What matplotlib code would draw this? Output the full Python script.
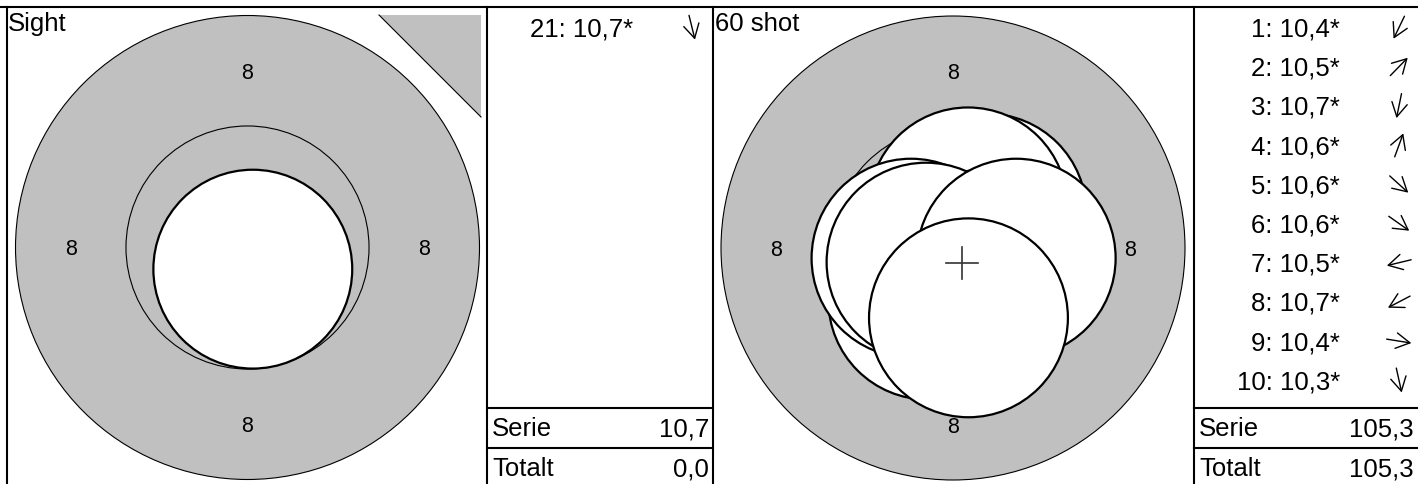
import numpy as np
import matplotlib
matplotlib.use("Agg")
import matplotlib.pyplot as plt
from matplotlib.patches import Circle, Polygon, FancyArrowPatch

plt.rcParams['font.family'] = ['Liberation Sans', 'DejaVu Sans']

# ---------------- data ----------------
sight_shot_no = [21]
sight_scores = [10.7]
sight_x = [0.12]    # mm, right positive
sight_y = [-0.49]   # mm, up positive

match_shot_no = [1, 2, 3, 4, 5, 6, 7, 8, 9, 10]
match_scores = [10.4, 10.5, 10.7, 10.6, 10.6, 10.6, 10.5, 10.7, 10.4, 10.3]
match_x = [-0.57, 0.77, -0.11, 0.34, 0.63, 0.68, -0.95, -0.61, 1.43, 0.35]
match_y = [-1.18, 0.79, -0.54, 0.93, -0.57, -0.48, -0.23, -0.32, -0.23, -1.58]

sight_total = 0.0
panel_titles = ["Sight", "60 shot"]
ring_label = "8"

# ---------------- style / layout ----------------
W, H = 1418, 484
DPI = 100
PX_PER_MM = 44.19
R8, R9, R_PELLET = 5.25, 2.75, 2.25
LABEL_R = 4.0
GRAY = "#c0c0c0"
LW_FRAME = 1.5
FS_TEXT = 18.5
FS_RING = 15.5

fig = plt.figure(figsize=(W / DPI, H / DPI), dpi=DPI)


def px_axes(x0, y0, x1, y1):
    return fig.add_axes([x0 / W, 1 - y1 / H, (x1 - x0) / W, (y1 - y0) / H])


def fmt(v):
    return f"{v:.1f}".replace(".", ",")


def target_axes(box, center, xs, ys):
    x0, y0, x1, y1 = box
    cx, cy = center
    ax = px_axes(x0, y0, x1, y1)
    ax.set_xlim((x0 - cx) / PX_PER_MM, (x1 - cx) / PX_PER_MM)
    ax.set_ylim(-(y1 - cy) / PX_PER_MM, (cy - y0) / PX_PER_MM)
    ax.set_aspect('auto')
    ax.axis('off')
    ax.add_patch(Circle((0, 0), R8, facecolor=GRAY, edgecolor='black', lw=0.8, zorder=1))
    ax.add_patch(Circle((0, 0), R9, facecolor='none', edgecolor='black', lw=0.8, zorder=2))
    for (lx, ly) in [(0, LABEL_R), (0, -LABEL_R), (-LABEL_R, 0), (LABEL_R, 0)]:
        ax.text(lx, ly, ring_label, ha='center', va='center_baseline', fontsize=FS_RING, zorder=3)
    for x, y in zip(xs, ys):
        ax.add_patch(Circle((x, y), R_PELLET, facecolor='white', edgecolor='black', lw=1.6, zorder=4))
    return ax


# left (sight) panel
axL = target_axes((7, 7, 487, 484), (247.5, 247.5), sight_x, sight_y)
# right (match) panel
axR = target_axes((713, 7, 1194, 484), (953, 248), match_x, match_y)
mx, my = np.mean(match_x), np.mean(match_y)
ch = 0.36
axR.plot([mx - ch, mx + ch], [my, my], color='#333333', lw=1.2, zorder=6)
axR.plot([mx, mx], [my - ch, my + ch], color='#333333', lw=1.2, zorder=6)

# overlay axes in pixel units for frames and tables
ov = fig.add_axes([0, 0, 1, 1])
ov.set_xlim(0, W)
ov.set_ylim(H, 0)
ov.axis('off')
ov.patch.set_alpha(0)

# sight triangle marker
ov.add_patch(Polygon([(379, 15), (481, 15), (481, 117)], closed=True, facecolor=GRAY, edgecolor='none'))
ov.plot([379, 481], [15, 117], color='black', lw=0.8)

# frame lines
ov.plot([0, W], [7, 7], color='black', lw=LW_FRAME)
for x in [7, 487, 713, 1194]:
    ov.plot([x, x], [7, H], color='black', lw=LW_FRAME)

ov.text(8, 31, panel_titles[0], ha='left', va='baseline', fontsize=FS_TEXT)
ov.text(715, 31, panel_titles[1], ha='left', va='baseline', fontsize=FS_TEXT)


def draw_table(x0, x1, nos, scores, xs, ys, total):
    for i, (n, s, dx, dy) in enumerate(zip(nos, scores, xs, ys)):
        base = 36.5 + 39.2 * i
        yc = base - 9
        ov.text(x0 + 146, base, f"{n}: {fmt(s)}*", ha='right', va='baseline', fontsize=FS_TEXT)
        ang = np.arctan2(dy, dx)
        L = 12.5
        ax_c = x0 + 205
        p0 = (ax_c - L * np.cos(ang), yc + L * np.sin(ang))
        p1 = (ax_c + L * np.cos(ang), yc - L * np.sin(ang))
        ov.add_patch(FancyArrowPatch(p0, p1, arrowstyle='->,head_length=0.5,head_width=0.28',
                                     mutation_scale=20, lw=1.0, color='black',
                                     shrinkA=0, shrinkB=0))
    ov.plot([x0, x1], [408, 408], color='black', lw=LW_FRAME)
    ov.plot([x0, x1], [448, 448], color='black', lw=LW_FRAME)
    ov.text(x0 + 5, 436, "Serie", ha='left', va='baseline', fontsize=FS_TEXT)
    ov.text(x1 - 4, 436, fmt(sum(scores)), ha='right', va='baseline', fontsize=FS_TEXT)
    ov.text(x0 + 5, 476.5, "Totalt", ha='left', va='baseline', fontsize=FS_TEXT)
    ov.text(x1 - 4, 476.5, fmt(total), ha='right', va='baseline', fontsize=FS_TEXT)


draw_table(487, 713, sight_shot_no, sight_scores, sight_x, sight_y, sight_total)
draw_table(1194, 1418, match_shot_no, match_scores, match_x, match_y, sum(match_scores))

fig.savefig("out.png", dpi=DPI)
